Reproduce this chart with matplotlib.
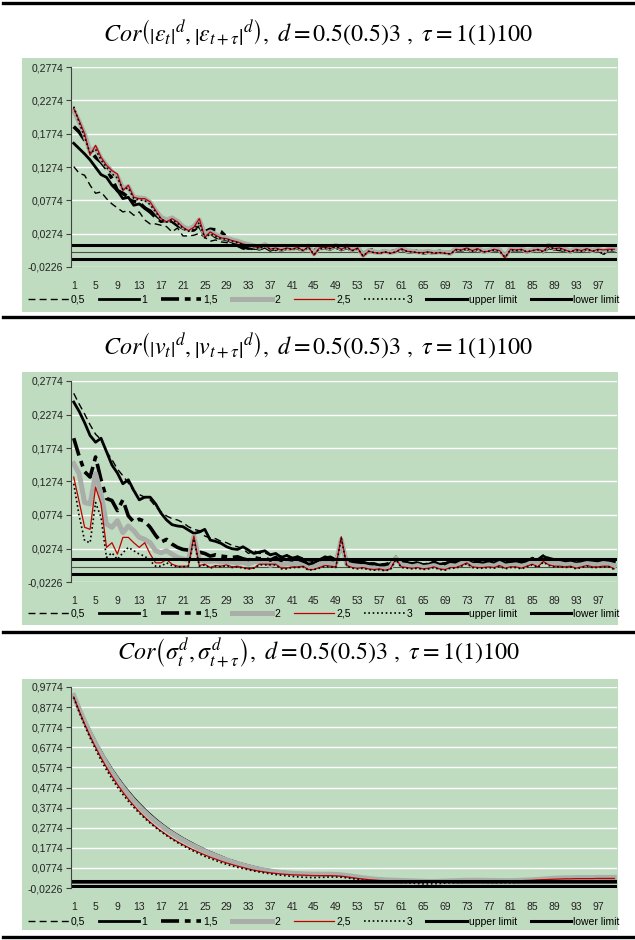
import matplotlib.pyplot as plt
from matplotlib.lines import Line2D
from matplotlib.patches import Rectangle

plt.rcParams['mathtext.fontset'] = 'stix'
plt.rcParams['font.family'] = ['Liberation Sans', 'DejaVu Sans']

W, H = 635, 940
GREEN = '#c0dcc0'

lags = list(range(1, 101))
xticks = list(range(1, 100, 4))
d_labels = ['0,5', '1', '1,5', '2', '2,5', '3']
upper_limit = 0.011
lower_limit = -0.011

yticks_ab = [-0.0226, 0.0274, 0.0774, 0.1274, 0.1774, 0.2274, 0.2774]
yticks_sig = [-0.0226, 0.0774, 0.1774, 0.2774, 0.3774, 0.4774, 0.5774,
              0.6774, 0.7774, 0.8774, 0.9774]

title_eps = (r'$Cor\left(\left|\varepsilon_{t}\right|^{d},\left|\varepsilon_{t+\tau}\right|^{d}\right),'
             r'\ d=0.5(0.5)3\ ,\ \tau=1(1)100$')
title_v = (r'$Cor\left(\left|v_{t}\right|^{d},\left|v_{t+\tau}\right|^{d}\right),'
           r'\ d=0.5(0.5)3\ ,\ \tau=1(1)100$')
title_sig = (r'$Cor\left(\sigma_{t}^{d},\sigma_{t+\tau}^{d}\right),'
             r'\ d=0.5(0.5)3\ ,\ \tau=1(1)100$')

# |eps|^d autocorrelations
e_05 = [0.128, 0.118, 0.115, 0.100, 0.088, 0.090, 0.080, 0.072, 0.066, 0.060,
        0.062, 0.055, 0.060, 0.048, 0.042, 0.042, 0.040, 0.038, 0.030, 0.036,
        0.024, 0.024, 0.025, 0.028, 0.022, 0.016, 0.018, 0.015, 0.014, 0.012,
        0.010, 0.008, 0.006, 0.004, 0.006, 0.008, 0.005, 0.002, 0.004, 0.006,
        0.003, 0.004, 0.001, 0.008, 0.004, 0.005, 0.002, 0.007, 0.005, 0.003,
        0.007, 0.002, 0.004, -0.002, 0.001, -0.001, 0.000, 0.002, -0.002, 0.001,
        0.003, 0.000, -0.001, 0.000, -0.001, -0.002, -0.001, 0.000, -0.002, -0.002,
        0.002, 0.001, 0.004, 0.000, 0.003, -0.001, 0.000, 0.002, 0.001, -0.004,
        0.002, 0.001, 0.003, -0.001, 0.001, 0.003, 0.000, 0.005, 0.003, 0.002,
        0.001, -0.001, 0.002, 0.000, 0.003, 0.000, 0.002, -0.003, 0.001, 0.002]
e_1 = [0.163, 0.155, 0.147, 0.138, 0.127, 0.116, 0.112, 0.100, 0.092, 0.080,
       0.082, 0.070, 0.072, 0.066, 0.062, 0.055, 0.048, 0.046, 0.048, 0.042,
       0.036, 0.034, 0.036, 0.038, 0.024, 0.028, 0.022, 0.020, 0.018, 0.015,
       0.012, 0.007, 0.005, 0.006, 0.004, 0.007, 0.003, 0.005, 0.002, 0.005,
       0.004, 0.006, 0.002, 0.007, 0.001, 0.005, 0.006, 0.004, 0.008, 0.003,
       0.006, 0.002, 0.005, -0.004, 0.000, 0.001, -0.001, 0.001, -0.001, 0.001,
       0.004, 0.000, -0.001, 0.001, -0.002, -0.001, -0.002, 0.000, -0.002, -0.002,
       0.003, 0.002, 0.005, 0.001, 0.004, 0.000, 0.001, 0.003, 0.001, -0.006,
       0.003, 0.002, 0.003, 0.000, 0.002, 0.004, 0.000, 0.007, 0.004, 0.004,
       0.002, 0.000, 0.003, 0.001, 0.004, 0.001, 0.003, -0.002, 0.002, 0.003]
e_15 = [0.188, 0.180, 0.168, 0.152, 0.142, 0.135, 0.125, 0.110, 0.092, 0.088,
        0.082, 0.076, 0.074, 0.066, 0.060, 0.052, 0.046, 0.048, 0.046, 0.040,
        0.036, 0.032, 0.033, 0.040, 0.030, 0.034, 0.033, 0.030, 0.022, 0.016,
        0.010, 0.006, 0.004, 0.007, 0.005, 0.008, 0.003, 0.006, 0.003, 0.006,
        0.004, 0.007, 0.003, 0.008, 0.002, 0.006, 0.006, 0.005, 0.009, 0.004,
        0.007, 0.003, 0.006, -0.003, 0.002, 0.003, -0.001, 0.002, 0.000, 0.002,
        0.005, 0.001, 0.000, 0.002, -0.001, 0.000, -0.001, 0.001, -0.001, -0.001,
        0.004, 0.003, 0.006, 0.002, 0.005, 0.001, 0.002, 0.004, 0.002, -0.005,
        0.004, 0.003, 0.004, 0.001, 0.003, 0.005, 0.001, 0.008, 0.005, 0.005,
        0.003, 0.001, 0.004, 0.002, 0.005, 0.002, 0.004, -0.001, 0.003, 0.004]
e_2 = [0.212, 0.195, 0.176, 0.150, 0.156, 0.140, 0.130, 0.120, 0.113, 0.095,
       0.098, 0.082, 0.081, 0.080, 0.074, 0.062, 0.052, 0.048, 0.051, 0.046,
       0.038, 0.034, 0.038, 0.048, 0.026, 0.030, 0.026, 0.022, 0.021, 0.018,
       0.016, 0.013, 0.011, 0.009, 0.007, 0.011, 0.006, 0.007, 0.004, 0.007,
       0.005, 0.008, 0.003, 0.009, -0.003, 0.007, 0.008, 0.006, 0.010, 0.005,
       0.009, 0.003, 0.007, -0.005, 0.002, 0.000, -0.001, 0.001, -0.001, 0.001,
       0.006, 0.002, 0.001, 0.000, 0.000, 0.001, -0.001, 0.000, -0.001, -0.002,
       0.005, 0.004, 0.007, 0.003, 0.006, 0.001, 0.002, 0.005, 0.003, -0.007,
       0.005, 0.004, 0.005, 0.001, 0.003, 0.005, 0.002, 0.010, 0.006, 0.007,
       0.004, 0.001, 0.005, 0.003, 0.006, 0.002, 0.005, 0.001, 0.004, 0.005]
e_25 = [0.215, 0.197, 0.177, 0.145, 0.160, 0.142, 0.130, 0.122, 0.117, 0.092,
        0.100, 0.082, 0.080, 0.080, 0.075, 0.062, 0.050, 0.045, 0.050, 0.045,
        0.037, 0.032, 0.037, 0.050, 0.022, 0.030, 0.025, 0.021, 0.020, 0.017,
        0.015, 0.012, 0.010, 0.008, 0.006, 0.010, 0.004, 0.006, 0.003, 0.006,
        0.004, 0.007, 0.002, 0.008, -0.005, 0.006, 0.007, 0.005, 0.009, 0.004,
        0.008, 0.002, 0.006, -0.007, 0.001, -0.001, -0.002, 0.000, -0.002, 0.000,
        0.005, 0.001, 0.000, -0.001, -0.001, 0.000, -0.002, -0.001, -0.002, -0.003,
        0.004, 0.003, 0.006, 0.002, 0.005, 0.000, 0.001, 0.004, 0.002, -0.009,
        0.004, 0.003, 0.004, 0.000, 0.002, 0.004, 0.001, 0.009, 0.005, 0.006,
        0.003, 0.000, 0.004, 0.002, 0.005, 0.001, 0.004, 0.003, 0.004, 0.004]
e_3 = [0.218, 0.194, 0.172, 0.148, 0.154, 0.138, 0.127, 0.117, 0.111, 0.094,
       0.096, 0.080, 0.078, 0.077, 0.071, 0.060, 0.049, 0.045, 0.048, 0.043,
       0.036, 0.031, 0.034, 0.044, 0.021, 0.027, 0.023, 0.020, 0.019, 0.016,
       0.014, 0.011, 0.009, 0.008, 0.005, 0.009, 0.004, 0.005, 0.003, 0.005,
       0.004, 0.006, 0.002, 0.007, -0.004, 0.005, 0.006, 0.005, 0.008, 0.003,
       0.007, 0.002, 0.005, -0.006, 0.001, -0.001, -0.002, 0.000, -0.002, 0.000,
       0.004, 0.001, 0.000, -0.001, -0.002, 0.000, -0.002, -0.001, -0.002, -0.003,
       0.003, 0.002, 0.005, 0.001, 0.004, 0.000, 0.001, 0.003, 0.001, -0.008,
       0.003, 0.002, 0.003, 0.000, 0.002, 0.003, 0.000, 0.008, 0.004, 0.005,
       0.002, 0.000, 0.003, 0.001, 0.004, 0.001, 0.003, -0.004, 0.003, 0.003]

# |v|^d autocorrelations
v_05 = [0.259, 0.243, 0.228, 0.212, 0.198, 0.190, 0.172, 0.160, 0.146, 0.136,
        0.125, 0.113, 0.108, 0.104, 0.100, 0.090, 0.082, 0.076, 0.072, 0.070,
        0.066, 0.060, 0.056, 0.054, 0.046, 0.043, 0.042, 0.038, 0.036, 0.032,
        0.030, 0.027, 0.020, 0.024, 0.020, 0.021, 0.017, 0.019, 0.016, 0.018,
        0.014, 0.016, 0.013, 0.009, 0.008, 0.012, 0.014, 0.016, 0.012, 0.036,
        0.012, 0.010, 0.009, 0.008, 0.006, 0.006, 0.004, 0.005, 0.007, 0.016,
        0.010, 0.008, 0.006, 0.008, 0.004, 0.006, 0.008, 0.005, 0.006, 0.009,
        0.008, 0.011, 0.012, 0.008, 0.009, 0.007, 0.010, 0.008, 0.011, 0.008,
        0.009, 0.010, 0.008, 0.010, 0.014, 0.012, 0.018, 0.014, 0.012, 0.012,
        0.010, 0.011, 0.008, 0.010, 0.012, 0.011, 0.010, 0.012, 0.011, 0.010]
v_1 = [0.246, 0.232, 0.215, 0.196, 0.186, 0.192, 0.172, 0.152, 0.140, 0.124,
       0.130, 0.114, 0.100, 0.104, 0.104, 0.094, 0.080, 0.070, 0.063, 0.061,
       0.060, 0.055, 0.050, 0.052, 0.056, 0.040, 0.038, 0.035, 0.030, 0.027,
       0.026, 0.030, 0.025, 0.020, 0.022, 0.024, 0.018, 0.020, 0.014, 0.017,
       0.013, 0.015, 0.010, 0.004, 0.006, 0.010, 0.015, 0.013, 0.011, 0.034,
       0.010, 0.008, 0.007, 0.006, 0.005, 0.004, 0.003, 0.003, 0.005, 0.013,
       0.008, 0.007, 0.004, 0.006, 0.003, 0.004, 0.007, 0.004, 0.005, 0.007,
       0.006, 0.010, 0.011, 0.006, 0.007, 0.006, 0.008, 0.006, 0.010, 0.006,
       0.007, 0.008, 0.006, 0.008, 0.012, 0.010, 0.016, 0.012, 0.010, 0.010,
       0.008, 0.009, 0.006, 0.008, 0.010, 0.009, 0.008, 0.010, 0.009, 0.007]
v_15 = [0.192, 0.165, 0.142, 0.134, 0.164, 0.130, 0.102, 0.099, 0.084, 0.100,
        0.076, 0.067, 0.071, 0.068, 0.059, 0.047, 0.037, 0.041, 0.034, 0.029,
        0.026, 0.025, 0.034, 0.022, 0.020, 0.016, 0.018, 0.016, 0.015, 0.014,
        0.015, 0.012, 0.010, 0.014, 0.012, 0.013, 0.010, 0.014, 0.008, 0.012,
        0.009, 0.011, 0.008, 0.002, 0.004, 0.008, 0.012, 0.010, 0.009, 0.032,
        0.008, 0.006, 0.005, 0.004, 0.003, 0.002, 0.001, 0.001, 0.003, 0.012,
        0.006, 0.005, 0.003, 0.005, 0.002, 0.003, 0.005, 0.002, 0.003, 0.005,
        0.004, 0.008, 0.009, 0.005, 0.005, 0.004, 0.006, 0.004, 0.008, 0.004,
        0.005, 0.006, 0.004, 0.006, 0.010, 0.008, 0.013, 0.010, 0.008, 0.008,
        0.006, 0.007, 0.004, 0.006, 0.008, 0.007, 0.006, 0.008, 0.007, 0.005]
v_2 = [0.154, 0.139, 0.096, 0.094, 0.139, 0.109, 0.064, 0.059, 0.069, 0.051,
       0.061, 0.054, 0.044, 0.041, 0.036, 0.024, 0.021, 0.024, 0.019, 0.014,
       0.012, 0.010, 0.045, 0.010, 0.009, 0.008, 0.009, 0.007, 0.008, 0.007,
       0.006, 0.007, 0.004, 0.008, 0.007, 0.008, 0.002, 0.006, 0.003, 0.005,
       0.004, 0.005, 0.002, -0.002, 0.000, 0.004, 0.006, 0.005, 0.004, 0.040,
       0.004, 0.002, 0.001, 0.000, -0.001, -0.002, -0.003, -0.003, -0.001, 0.013,
       0.003, 0.002, 0.000, 0.002, -0.001, 0.000, 0.002, -0.001, -0.002, 0.002,
       0.001, 0.005, 0.006, 0.002, 0.002, 0.001, 0.003, 0.001, 0.005, 0.001,
       0.002, 0.003, 0.001, 0.003, 0.007, 0.005, 0.010, 0.007, 0.005, 0.005,
       0.003, 0.004, 0.002, 0.003, 0.005, 0.004, 0.003, 0.005, 0.004, 0.002]
v_25 = [0.134, 0.097, 0.059, 0.056, 0.119, 0.094, 0.029, 0.036, 0.019, 0.044,
        0.044, 0.036, 0.029, 0.036, 0.019, 0.006, 0.006, 0.011, 0.004, 0.001,
        0.001, 0.001, 0.046, 0.002, 0.004, -0.001, 0.002, 0.001, 0.003, 0.000,
        0.001, -0.001, -0.003, -0.002, 0.004, 0.004, 0.004, 0.004, -0.002, -0.002,
        0.000, 0.000, 0.001, -0.004, -0.004, -0.001, 0.002, 0.001, 0.000, 0.045,
        0.002, -0.001, -0.002, -0.001, -0.003, -0.004, -0.003, -0.005, -0.003, 0.012,
        0.000, -0.001, -0.002, -0.001, -0.003, -0.002, 0.000, -0.003, -0.004, -0.001,
        -0.001, 0.002, 0.006, 0.000, -0.001, -0.001, 0.000, -0.001, 0.002, -0.002,
        0.000, 0.000, -0.002, 0.001, 0.004, 0.000, 0.008, 0.003, 0.001, 0.001,
        0.000, 0.001, -0.002, 0.000, 0.002, 0.000, 0.000, 0.001, 0.001, -0.003]
v_3 = [0.124, 0.076, 0.039, 0.036, 0.096, 0.074, 0.014, 0.021, 0.011, 0.021,
       0.029, 0.024, 0.019, 0.016, 0.009, 0.001, 0.001, 0.006, 0.002, 0.000,
       0.000, 0.001, 0.042, 0.001, 0.003, -0.002, 0.001, 0.000, 0.002, -0.001,
       0.000, -0.002, -0.003, -0.002, 0.003, 0.003, 0.003, 0.003, -0.003, -0.003,
       -0.001, -0.001, 0.000, -0.005, -0.004, -0.002, 0.001, 0.000, -0.001, 0.043,
       0.001, -0.002, -0.003, -0.002, -0.004, -0.005, -0.004, -0.006, -0.004, 0.011,
       -0.001, -0.002, -0.003, -0.002, -0.004, -0.003, -0.001, -0.004, -0.005, -0.002,
       -0.002, 0.001, 0.005, -0.001, -0.002, -0.002, -0.001, -0.002, 0.001, -0.003,
       -0.001, -0.001, -0.003, 0.000, 0.003, -0.001, 0.007, 0.002, 0.000, 0.000,
       -0.001, 0.000, -0.003, -0.001, 0.001, -0.001, -0.001, 0.000, 0.000, -0.004]

# sigma^d autocorrelations
s_05 = [0.925, 0.860, 0.800, 0.745, 0.694, 0.646, 0.601, 0.559, 0.520, 0.484,
        0.450, 0.419, 0.390, 0.363, 0.338, 0.315, 0.293, 0.273, 0.254, 0.237,
        0.221, 0.206, 0.192, 0.178, 0.165, 0.153, 0.141, 0.130, 0.120, 0.111,
        0.102, 0.094, 0.086, 0.079, 0.073, 0.068, 0.063, 0.059, 0.056, 0.053,
        0.051, 0.049, 0.047, 0.045, 0.044, 0.043, 0.043, 0.042, 0.041, 0.039,
        0.036, 0.032, 0.028, 0.024, 0.021, 0.018, 0.016, 0.014, 0.013, 0.012,
        0.011, 0.010, 0.009, 0.008, 0.007, 0.006, 0.006, 0.007, 0.008, 0.009,
        0.010, 0.011, 0.012, 0.012, 0.012, 0.011, 0.011, 0.010, 0.010, 0.009,
        0.009, 0.010, 0.010, 0.011, 0.012, 0.013, 0.014, 0.015, 0.016, 0.016,
        0.017, 0.017, 0.017, 0.017, 0.017, 0.017, 0.017, 0.017, 0.017, 0.017]
s_1 = [0.930, 0.866, 0.808, 0.753, 0.702, 0.654, 0.608, 0.566, 0.527, 0.490,
       0.456, 0.424, 0.395, 0.367, 0.342, 0.318, 0.296, 0.276, 0.257, 0.240,
       0.223, 0.208, 0.194, 0.180, 0.167, 0.155, 0.143, 0.132, 0.121, 0.112,
       0.103, 0.095, 0.087, 0.080, 0.074, 0.069, 0.064, 0.060, 0.057, 0.054,
       0.052, 0.050, 0.049, 0.047, 0.046, 0.045, 0.045, 0.044, 0.043, 0.041,
       0.038, 0.034, 0.030, 0.026, 0.023, 0.020, 0.018, 0.016, 0.015, 0.014,
       0.013, 0.012, 0.011, 0.010, 0.009, 0.008, 0.008, 0.009, 0.010, 0.011,
       0.012, 0.013, 0.014, 0.014, 0.014, 0.013, 0.013, 0.012, 0.012, 0.011,
       0.011, 0.012, 0.012, 0.013, 0.014, 0.015, 0.016, 0.017, 0.018, 0.018,
       0.019, 0.019, 0.019, 0.019, 0.019, 0.019, 0.019, 0.019, 0.019, 0.019]
s_15 = [0.932, 0.867, 0.807, 0.751, 0.699, 0.650, 0.604, 0.561, 0.521, 0.484,
        0.450, 0.418, 0.389, 0.362, 0.337, 0.313, 0.292, 0.272, 0.253, 0.236,
        0.220, 0.205, 0.191, 0.177, 0.164, 0.152, 0.141, 0.130, 0.119, 0.110,
        0.101, 0.093, 0.086, 0.079, 0.073, 0.068, 0.063, 0.059, 0.056, 0.053,
        0.051, 0.049, 0.048, 0.046, 0.045, 0.045, 0.044, 0.044, 0.043, 0.041,
        0.038, 0.034, 0.030, 0.026, 0.023, 0.020, 0.018, 0.016, 0.015, 0.014,
        0.013, 0.012, 0.011, 0.010, 0.008, 0.007, 0.007, 0.008, 0.009, 0.010,
        0.011, 0.012, 0.013, 0.013, 0.013, 0.013, 0.012, 0.012, 0.011, 0.011,
        0.011, 0.011, 0.012, 0.013, 0.014, 0.015, 0.016, 0.017, 0.018, 0.018,
        0.019, 0.019, 0.019, 0.019, 0.019, 0.019, 0.019, 0.019, 0.019, 0.019]
s_2 = [0.935, 0.868, 0.806, 0.748, 0.695, 0.645, 0.598, 0.555, 0.515, 0.478,
       0.444, 0.412, 0.383, 0.356, 0.331, 0.308, 0.287, 0.267, 0.249, 0.232,
       0.216, 0.201, 0.187, 0.174, 0.161, 0.149, 0.138, 0.127, 0.117, 0.108,
       0.099, 0.091, 0.084, 0.077, 0.071, 0.066, 0.062, 0.058, 0.055, 0.053,
       0.051, 0.049, 0.048, 0.047, 0.046, 0.046, 0.046, 0.046, 0.045, 0.043,
       0.040, 0.036, 0.032, 0.028, 0.025, 0.022, 0.020, 0.018, 0.017, 0.016,
       0.015, 0.014, 0.013, 0.012, 0.011, 0.010, 0.010, 0.011, 0.012, 0.013,
       0.014, 0.015, 0.016, 0.016, 0.016, 0.016, 0.015, 0.015, 0.014, 0.014,
       0.014, 0.015, 0.016, 0.017, 0.018, 0.020, 0.022, 0.024, 0.026, 0.027,
       0.028, 0.028, 0.029, 0.029, 0.029, 0.029, 0.030, 0.030, 0.030, 0.030]
s_25 = [0.928, 0.858, 0.793, 0.733, 0.677, 0.625, 0.577, 0.533, 0.492, 0.454,
        0.419, 0.387, 0.357, 0.330, 0.305, 0.282, 0.261, 0.242, 0.224, 0.208,
        0.193, 0.179, 0.166, 0.154, 0.142, 0.131, 0.121, 0.111, 0.102, 0.094,
        0.086, 0.079, 0.072, 0.066, 0.061, 0.057, 0.053, 0.050, 0.047, 0.045,
        0.043, 0.042, 0.041, 0.040, 0.039, 0.039, 0.039, 0.039, 0.038, 0.036,
        0.033, 0.029, 0.025, 0.022, 0.019, 0.017, 0.015, 0.014, 0.013, 0.012,
        0.011, 0.010, 0.009, 0.008, 0.007, 0.007, 0.007, 0.008, 0.009, 0.010,
        0.011, 0.012, 0.013, 0.013, 0.013, 0.013, 0.013, 0.012, 0.012, 0.012,
        0.012, 0.013, 0.014, 0.015, 0.016, 0.018, 0.019, 0.020, 0.021, 0.022,
        0.023, 0.023, 0.024, 0.024, 0.024, 0.024, 0.025, 0.025, 0.025, 0.025]
s_3 = [0.925, 0.852, 0.786, 0.724, 0.667, 0.614, 0.565, 0.521, 0.480, 0.443,
       0.409, 0.378, 0.350, 0.324, 0.300, 0.278, 0.257, 0.238, 0.220, 0.203,
       0.188, 0.174, 0.160, 0.147, 0.135, 0.124, 0.114, 0.104, 0.095, 0.087,
       0.080, 0.074, 0.068, 0.062, 0.057, 0.052, 0.048, 0.044, 0.041, 0.038,
       0.035, 0.033, 0.031, 0.030, 0.029, 0.030, 0.031, 0.032, 0.032, 0.031,
       0.028, 0.024, 0.020, 0.016, 0.013, 0.011, 0.009, 0.008, 0.007, 0.006,
       0.005, 0.004, 0.002, 0.000, -0.002, -0.002, -0.001, 0.000, 0.002, 0.003,
       0.004, 0.005, 0.006, 0.006, 0.006, 0.006, 0.005, 0.005, 0.004, 0.004,
       0.004, 0.005, 0.006, 0.007, 0.008, 0.009, 0.010, 0.011, 0.012, 0.012,
       0.013, 0.013, 0.013, 0.013, 0.013, 0.013, 0.013, 0.013, 0.013, 0.013]

styles = [
    dict(color='black', lw=1.0, ls=(0, (5, 3))),
    dict(color='black', lw=2.0, ls='-'),
    dict(color='black', lw=2.6, ls=(0, (5, 1.6, 1.6, 1.6))),
    dict(color='#a9aea9', lw=3.6, ls='-'),
    dict(color='#c00000', lw=0.9, ls='-'),
    dict(color='black', lw=1.2, ls=(0, (1, 1.6))),
]


def fbox(l, t, r, b):
    return [l / W, 1 - b / H, (r - l) / W, (b - t) / H]


fig = plt.figure(figsize=(W / 100, H / 100), dpi=100)

# separator rules
for y in [3, 317, 632, 937]:
    fig.add_artist(Line2D([3 / W, 1], [1 - y / H] * 2, color='black', lw=2.4))

# (title, series, yticks, axes top/bottom, green top/bottom, title y, legend y)
panels = [
    (title_eps, [e_05, e_1, e_15, e_2, e_25, e_3], yticks_ab, (67, 267), (58, 312), 32, 300),
    (title_v, [v_05, v_1, v_15, v_2, v_25, v_3], yticks_ab, (381, 582), (372, 625), 345, 614),
    (title_sig, [s_05, s_1, s_15, s_2, s_25, s_3], yticks_sig, (687, 888), (679, 930), 653, 922),
]

for title, series, yticks, (top, bot), (gtop, gbot), ty, ly in panels:
    fig.add_artist(Rectangle((22 / W, 1 - gbot / H), (618 - 22) / W, (gbot - gtop) / H,
                             transform=fig.transFigure, facecolor=GREEN,
                             edgecolor='none', zorder=-5))
    fig.text(318 / W, 1 - ty / H, title, ha='center', va='center', fontsize=17.3)

    ax = fig.add_axes(fbox(71, top, 617, bot))
    ax.patch.set_visible(False)
    for vals, lab, st in zip(series, d_labels, styles):
        ax.plot(lags, vals, label=lab, **st)
    ax.axhline(0, color='#4d4d4d', lw=0.8, zorder=1.5)
    ax.axhline(upper_limit, color='black', lw=2.2, label='upper limit')
    ax.axhline(lower_limit, color='black', lw=2.2, label='lower limit')

    ax.set_xlim(0.5, 100.5)
    ax.set_ylim(yticks[0], yticks[-1])
    ax.set_yticks(yticks)
    ax.set_yticklabels([f'{v:.4f}'.replace('.', ',') for v in yticks])
    ax.set_xticks(xticks)
    for side in ['top', 'right', 'bottom']:
        ax.spines[side].set_visible(False)
    ax.spines['left'].set_color('#404040')
    ax.tick_params(axis='x', length=0, pad=10, labelsize=7.5, labelcolor='#222222')
    ax.tick_params(axis='y', length=3.5, width=0.8, color='#404040', pad=2,
                   labelsize=7.5, labelcolor='#222222')
    ax.grid(axis='y', color='white', lw=1.0)
    ax.set_axisbelow(True)

    ax.legend(loc='center left', bbox_to_anchor=(28 / W, 1 - ly / H),
              bbox_transform=fig.transFigure, ncol=8, frameon=False, fontsize=7.5,
              handlelength=3.9, handletextpad=0.2, columnspacing=1.3,
              borderaxespad=0, borderpad=0)

fig.savefig('out.png', dpi=100)
